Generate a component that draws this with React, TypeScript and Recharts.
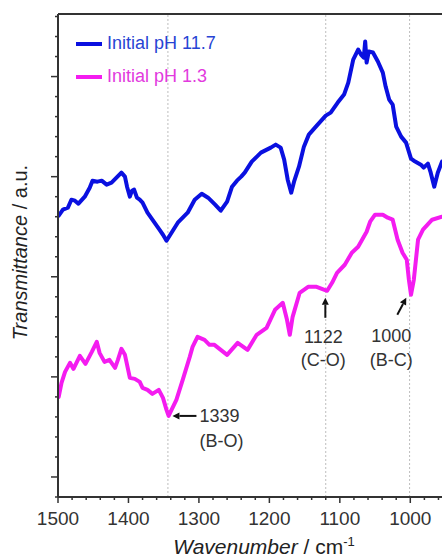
import React from 'react';
import { LineChart, Line, XAxis, YAxis, ReferenceLine, ReferenceDot, Legend } from 'recharts';

// spectra (wavenumber in cm-1, transmittance in a.u.)
const wnHigh = [
  1499, 1493, 1486, 1481, 1476, 1471, 1462, 1455, 1451, 1444, 1438, 1431, 1424, 1417, 1410, 1405,
  1402, 1398, 1395, 1392, 1388, 1384, 1380, 1373, 1363, 1356, 1351, 1346, 1330, 1316, 1306, 1296,
  1287, 1277, 1269, 1260, 1253, 1246, 1240, 1235, 1225, 1212, 1198, 1191, 1184, 1179, 1174, 1169,
  1165, 1158, 1151, 1144, 1134, 1120, 1113, 1103, 1094, 1088, 1081, 1074, 1070, 1066, 1064, 1062,
  1059, 1053, 1046, 1039, 1035, 1030, 1025, 1020, 1013, 1006, 999, 995, 985, 981, 975, 971, 966,
  961, 955,
];
const tHigh = [
  13.05, 13.35, 13.45, 13.85, 13.8, 13.65, 14.0, 14.45, 14.8, 14.75, 14.8, 14.6, 14.7, 14.95, 15.2, 15.0,
  14.5, 14.0, 14.3, 14.35, 13.95, 13.85, 13.7, 13.2, 12.7, 12.35, 12.1, 11.8, 12.7, 13.2, 13.85, 14.15,
  13.95, 13.6, 13.3, 13.75, 14.5, 14.8, 15.0, 15.2, 15.75, 16.2, 16.45, 16.6, 16.45, 15.85, 14.85, 14.2,
  14.75, 15.5, 16.5, 17.1, 17.5, 18.05, 18.2, 18.7, 19.1, 19.7, 20.85, 21.35, 21.1, 20.95, 21.75, 20.7,
  21.25, 21.2, 20.75, 20.2, 19.5, 18.85, 18.6, 17.5, 17.0, 16.7, 15.9, 15.8, 15.6, 15.45, 15.65, 15.2, 14.5,
  15.2, 15.75,
];

const wnLow = [
  1499, 1495, 1490, 1483, 1478, 1469, 1461, 1452, 1445, 1441, 1434, 1427, 1419, 1415, 1410, 1405,
  1398, 1391, 1384, 1380, 1373, 1366, 1357, 1351, 1346, 1343, 1332, 1323, 1313, 1309, 1302, 1292,
  1285, 1278, 1269, 1260, 1245, 1231, 1218, 1204, 1192, 1181, 1175, 1171, 1167, 1157, 1145, 1133,
  1118, 1111, 1104, 1093, 1083, 1074, 1062, 1057, 1050, 1039, 1032, 1025, 1018, 1011, 1005, 1002,
  999, 995, 989, 982, 969, 955,
];
const tLow = [
  4.0, 4.7, 5.25, 5.7, 5.4, 6.05, 5.65, 6.25, 6.75, 6.2, 5.75, 5.85, 5.45, 5.85, 6.4, 6.1,
  4.95, 4.9, 4.75, 4.45, 4.35, 4.15, 4.35, 3.95, 3.35, 3.05, 3.85, 4.85, 6.0, 6.5, 7.0, 6.85,
  6.6, 6.6, 6.35, 6.1, 6.7, 6.35, 7.1, 7.45, 8.35, 8.7, 7.85, 7.1, 8.0, 9.2, 9.5, 9.5,
  9.3, 9.7, 10.2, 10.6, 11.2, 11.5, 12.25, 12.75, 13.1, 13.1, 12.95, 12.85, 11.85, 11.2, 10.85, 9.85,
  9.1, 9.85, 11.85, 12.35, 12.85, 13.0,
];

const seriesNames = ['Initial pH 11.7', 'Initial pH 1.3'];
const xTicks = [
  960, 980, 1000, 1020, 1040, 1060, 1080, 1100, 1120, 1140, 1160, 1180, 1200, 1220, 1240,
  1260, 1280, 1300, 1320, 1340, 1360, 1380, 1400, 1420, 1440, 1460, 1480, 1500,
];
const yTicks = [-1, 0, 1, 2, 3, 4, 5, 6, 7, 8, 9, 10, 11, 12, 13, 14, 15, 16, 17, 18, 19, 20, 21, 22, 23];
const guideLines = [1344, 1120, 1001];
const peakWn = [1339, 1122, 1000];
const peakT = [3.05, 8.95, 8.95];
const peakLabels = ['1339', '1122', '1000'];
const peakBonds = ['(B-O)', '(C-O)', '(B-C)'];

const highData = wnHigh.map((wn, i) => ({ wn, t: tHigh[i] }));
const lowData = wnLow.map((wn, i) => ({ wn, t: tLow[i] }));

const FONT = '"Liberation Sans", Arial, sans-serif';
const BLUE = '#0a10e0';
const PINK = '#f41cf0';
const TEXT = '#333';
const legendText = ['#2744d4', '#e23ade'];

// pixel layout of each arrow + label, relative to the arrow tip
const peakLayout = [
  { tail: [25, 0], tip: [1, 0], anchor: 'start', lx: 28, ly1: 6, ly2: 31 },
  { tail: [1, 20], tip: [1, 0], anchor: 'middle', lx: -1, ly1: 45, ly2: 68 },
  { tail: [-13, 17], tip: [-4, 0], anchor: 'middle', lx: -19, ly1: 44, ly2: 68 },
];

const Arrow = ({ x1, y1, x2, y2 }: { x1: number; y1: number; x2: number; y2: number }) => {
  const dx = x2 - x1;
  const dy = y2 - y1;
  const len = Math.sqrt(dx * dx + dy * dy);
  const ux = dx / len;
  const uy = dy / len;
  const head = 7;
  const bx = x2 - ux * head;
  const by = y2 - uy * head;
  return (
    <g>
      <line x1={x1} y1={y1} x2={bx} y2={by} stroke="#111" strokeWidth={2} />
      <polygon
        points={`${x2},${y2} ${bx - uy * 3.5},${by + ux * 3.5} ${bx + uy * 3.5},${by - ux * 3.5}`}
        fill="#111"
      />
    </g>
  );
};

const peakShape = (i: number) => (props: any) => {
  const { cx, cy } = props;
  const l = peakLayout[i];
  return (
    <g>
      <Arrow x1={cx + l.tail[0]} y1={cy + l.tail[1]} x2={cx + l.tip[0]} y2={cy + l.tip[1]} />
      <text x={cx + l.lx} y={cy + l.ly1} textAnchor={l.anchor} fontSize={18} fill={TEXT} fontFamily={FONT}>
        {peakLabels[i]}
      </text>
      <text x={cx + l.lx} y={cy + l.ly2} textAnchor={l.anchor} fontSize={18} fill={TEXT} fontFamily={FONT}>
        {peakBonds[i]}
      </text>
    </g>
  );
};

const XTick = (props: any) => {
  const { x, y, payload } = props;
  const major = payload.value % 100 === 0;
  return (
    <g>
      <line x1={x} y1={y} x2={x} y2={y + (major ? 6 : 3)} stroke="#333" strokeWidth={1.5} />
      {major && (
        <text x={x} y={y + 28} textAnchor="middle" fontSize={19} fill={TEXT} fontFamily={FONT}>
          {payload.value}
        </text>
      )}
    </g>
  );
};

const YTick = (props: any) => {
  const { x, y, payload } = props;
  const major = payload.value % 5 === 0;
  return <line x1={x} y1={y} x2={x - (major ? 7 : 3)} y2={y} stroke="#333" strokeWidth={1.5} />;
};

const LegendBox = (props: any) => {
  const items = [...(props.payload || [])].sort(
    (a: any, b: any) => seriesNames.indexOf(a.value) - seriesNames.indexOf(b.value)
  );
  return (
    <div style={{ fontFamily: FONT, fontSize: 18 }}>
      {items.map((p: any) => (
        <div key={p.value} style={{ display: 'flex', alignItems: 'center', height: 33 }}>
          <span style={{ display: 'inline-block', width: 26, height: 4, background: p.color, marginRight: 5 }} />
          <span style={{ color: legendText[seriesNames.indexOf(p.value)] }}>{p.value}</span>
        </div>
      ))}
    </div>
  );
};

export default function App() {
  return (
    <div style={{ position: 'absolute', left: 0, top: 0, width: 442, height: 560, overflow: 'hidden', background: '#fff' }}>
      <LineChart width={442} height={560} margin={{ top: 14, right: 0, bottom: 0, left: 0 }}>
        <XAxis
          type="number"
          dataKey="wn"
          domain={[955, 1500]}
          reversed
          allowDataOverflow
          ticks={xTicks}
          interval={0}
          tick={<XTick />}
          tickLine={false}
          tickSize={0}
          tickMargin={0}
          height={63}
          axisLine={{ stroke: '#333', strokeWidth: 2 }}
          label={{
            content: (p: any) => {
              const vb = p.viewBox;
              return (
                <text x={vb.x + vb.width / 2 + 14} y={vb.y + 57} textAnchor="middle" fontSize={21} fill="#222" fontFamily={FONT}>
                  <tspan fontStyle="italic">Wavenumber</tspan>
                  <tspan> / cm</tspan>
                  <tspan dy={-8} fontSize={13}>-1</tspan>
                </text>
              );
            },
          }}
        />
        <YAxis
          type="number"
          domain={[-1, 23.125]}
          allowDataOverflow
          ticks={yTicks}
          interval={0}
          tick={<YTick />}
          tickLine={false}
          tickSize={0}
          tickMargin={0}
          width={58}
          axisLine={{ stroke: '#333', strokeWidth: 2 }}
          label={{
            content: (p: any) => {
              const vb = p.viewBox;
              const cy = vb.y + vb.height / 2 - 3;
              return (
                <text x={27} y={cy} transform={`rotate(-90 27 ${cy})`} textAnchor="middle" fontSize={20} fill="#222" fontFamily={FONT}>
                  <tspan fontStyle="italic">Transmittance</tspan>
                  <tspan> / a.u.</tspan>
                </text>
              );
            },
          }}
        />
        <ReferenceLine y={23.125} stroke="#333" strokeWidth={2} />
        {guideLines.map((g) => (
          <ReferenceLine key={g} x={g} stroke="#bdbdbd" strokeWidth={1} strokeDasharray="2 2" />
        ))}
        <Line
          data={highData}
          dataKey="t"
          name={seriesNames[0]}
          stroke={BLUE}
          strokeWidth={4}
          strokeLinejoin="round"
          strokeLinecap="round"
          dot={false}
          type="linear"
          isAnimationActive={false}
        />
        <Line
          data={lowData}
          dataKey="t"
          name={seriesNames[1]}
          stroke={PINK}
          strokeWidth={4}
          strokeLinejoin="round"
          strokeLinecap="round"
          dot={false}
          type="linear"
          isAnimationActive={false}
        />
        {peakWn.map((wn, i) => (
          <ReferenceDot key={wn} x={wn} y={peakT[i]} r={0} shape={peakShape(i)} />
        ))}
        <Legend
          layout="vertical"
          align="center"
          verticalAlign="middle"
          content={<LegendBox />}
          wrapperStyle={{ position: 'absolute', left: 76, top: 27, width: 'auto' }}
        />
      </LineChart>
    </div>
  );
}
